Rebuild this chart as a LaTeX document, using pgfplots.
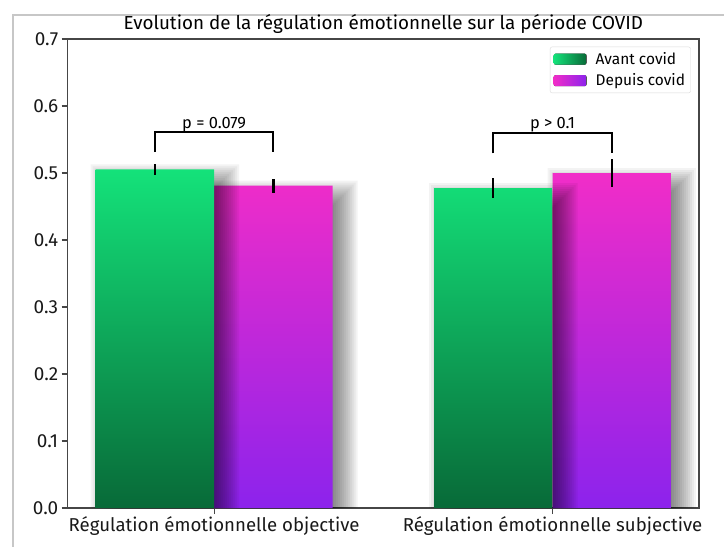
\documentclass[border=0pt]{standalone}
\usepackage{fontspec}
\setmainfont{Fira Sans}
\usepackage{pgfplots}
\usepackage{pgfplotstable}
\pgfplotsset{compat=1.18}
\definecolor{gtop}{RGB}{20,226,122}
\definecolor{gbot}{RGB}{8,106,56}
\definecolor{mtop}{RGB}{241,45,200}
\definecolor{mbot}{RGB}{140,35,236}
\definecolor{axgray}{RGB}{70,70,70}
\pgfplotstableread{
x avant eavant depuis edepuis
0 0.5055 0.008 0.481 0.0105
1 0.4776 0.015 0.500 0.0216
}\data
% one layer of a soft drop shadow: column, bar shift, bar width, y offset
\newcommand\shadowlayer[4]{%
  \addplot[ybar, bar width=#3, bar shift=#2, fill=black, fill opacity=0.047, draw=none, forget plot]
    table[x=x, y expr=\thisrow{#1}+#4] {\data};}
\newcommand\softshadow[2]{%
  \shadowlayer{#1}{#2}{0.2614}{-0.03728}
  \shadowlayer{#1}{#2}{0.2733}{-0.03429}
  \shadowlayer{#1}{#2}{0.2851}{-0.03131}
  \shadowlayer{#1}{#2}{0.2969}{-0.02833}
  \shadowlayer{#1}{#2}{0.3087}{-0.02535}
  \shadowlayer{#1}{#2}{0.3205}{-0.02237}
  \shadowlayer{#1}{#2}{0.3323}{-0.01938}
  \shadowlayer{#1}{#2}{0.3442}{-0.01640}
  \shadowlayer{#1}{#2}{0.3560}{-0.01342}
  \shadowlayer{#1}{#2}{0.3678}{-0.01044}
  \shadowlayer{#1}{#2}{0.3796}{-0.00746}
  \shadowlayer{#1}{#2}{0.3914}{-0.00447}
  \shadowlayer{#1}{#2}{0.4032}{-0.00149}
  \shadowlayer{#1}{#2}{0.4151}{0.00149}
  \shadowlayer{#1}{#2}{0.4269}{0.00447}
  \shadowlayer{#1}{#2}{0.4387}{0.00746}}
\begin{document}
\begin{tikzpicture}
\useasboundingbox (-67.7bp,-39bp) rectangle (656.3bp,508bp);
\draw[black!22, line width=1.5bp] (-54.7bp,-60bp) -- (-54.7bp,493bp) -- (700bp,493bp);
\begin{axis}[
  scale only axis, width=631.3bp, height=469bp,
  xmin=-0.4328, xmax=1.4328, ymin=0, ymax=0.7,
  xtick={0,1},
  xticklabels={Régulation émotionnelle objective, Régulation émotionnelle subjective},
  ytick={0,0.1,0.2,0.3,0.4,0.5,0.6,0.7},
  yticklabel style={/pgf/number format/fixed, /pgf/number format/fixed zerofill,
    /pgf/number format/precision=1, font=\fontsize{19}{21}\selectfont, text=black!90},
  /pgf/number format/assume math mode=true,
  tick pos=left, tick align=outside, major tick length=6bp,
  tick style={axgray, line width=1.2bp},
  axis line style={axgray, line width=1.3bp},
  xticklabel style={font=\fontsize{18.7}{21}\selectfont, text=black!90, yshift=1bp},
  title={Evolution de la régulation émotionnelle sur la période COVID},
  every axis title/.style={at={(0.5,1)}, anchor=base, yshift=9.7bp, font=\fontsize{18.9}{21}\selectfont},
  legend style={at={(0.9869,0.9836)}, anchor=north east, draw=black!15, rounded corners=2bp,
    font=\fontsize{15.5}{18}\selectfont, inner xsep=3.5bp, inner ysep=3.5bp, row sep=4bp},
  legend cell align=left,
  reverse legend,
]
% magenta first so that the green shadow falls on it
\softshadow{depuis}{0.2045}
\addplot[ybar, bar width=0.35, bar shift=0.175, draw=none,
  top color=mtop, bottom color=mbot,
  /pgfplots/legend image code/.code={\fill[left color=mtop, right color=mbot] (0bp,-5.5bp) rectangle (33bp,5.5bp); \path (0bp,0bp) -- (40bp,0bp);}]
  table[x=x, y=depuis] {\data};
\addlegendentry{Depuis covid}
\softshadow{avant}{-0.1455}
\addplot[ybar, bar width=0.35, bar shift=-0.175, draw=none,
  top color=gtop, bottom color=gbot,
  /pgfplots/legend image code/.code={\fill[left color=gtop, right color=gbot] (0bp,-5.5bp) rectangle (33bp,5.5bp); \path (0bp,0bp) -- (40bp,0bp);}]
  table[x=x, y=avant] {\data};
\addlegendentry{Avant covid}
% error bars
\addplot[forget plot, draw=none, mark=none,
  error bars/.cd, y dir=both, y explicit, error mark=none,
  error bar style={draw=black, line width=2.3bp}]
  table[x expr=\thisrow{x}+0.175, y=depuis, y error=edepuis] {\data};
\addplot[forget plot, draw=none, mark=none,
  error bars/.cd, y dir=both, y explicit, error mark=none,
  error bar style={draw=black, line width=2.3bp}]
  table[x expr=\thisrow{x}-0.175, y=avant, y error=eavant] {\data};
% significance brackets
\addplot[sharp plot, black, line width=2.2bp, forget plot]
  coordinates {(-0.175,0.531) (-0.175,0.5607) (0.175,0.5607) (0.175,0.531)};
\addplot[sharp plot, black, line width=2.2bp, forget plot]
  coordinates {(0.825,0.5294) (0.825,0.5592) (1.175,0.5592) (1.175,0.5294)};
\node[anchor=base, font=\fontsize{16.5}{18}\selectfont] at (axis cs:0,0.5665) {p = 0.079};
\node[anchor=base, font=\fontsize{16.5}{18}\selectfont] at (axis cs:1,0.5665) {p > 0.1};
\end{axis}
\end{tikzpicture}
\end{document}
